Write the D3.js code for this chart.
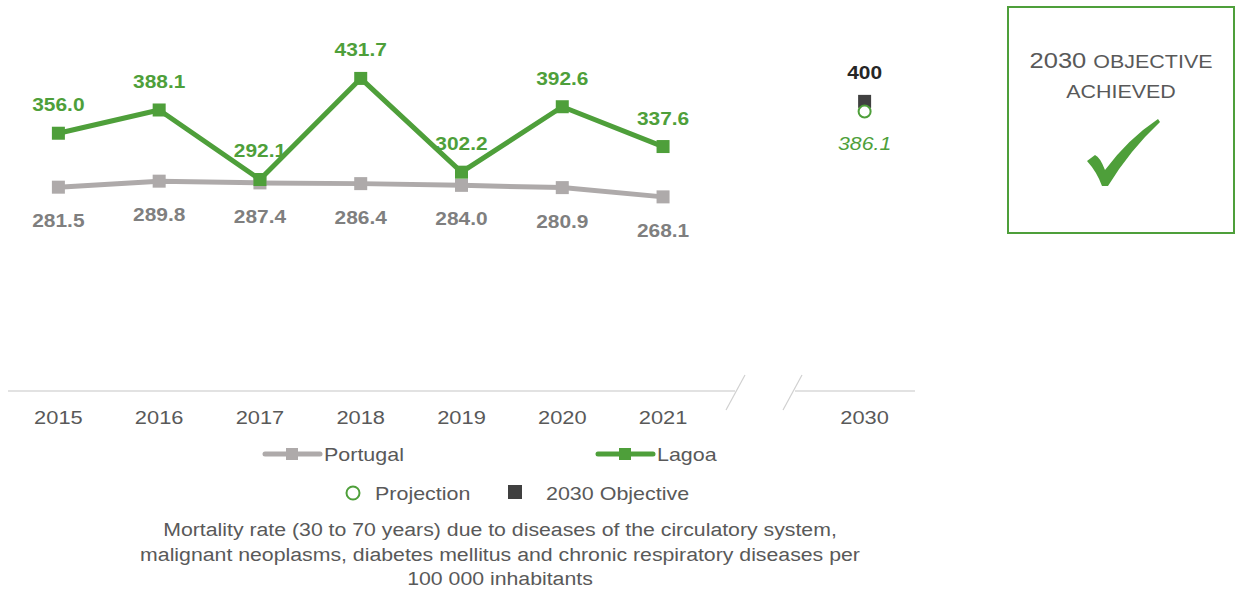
<!DOCTYPE html>
<html><head><meta charset="utf-8">
<script src="https://cdn.jsdelivr.net/npm/d3@7"></script>
<style>body{margin:0;background:#fff}svg{display:block;font-family:"Liberation Sans",Arial,sans-serif}</style>
</head><body>
<svg id="c" width="1240" height="589"></svg>
<script>
const categories = ["2015","2016","2017","2018","2019","2020","2021","","2030"];
const years = ["2015","2016","2017","2018","2019","2020","2021"];
const portugal = [281.5, 289.8, 287.4, 286.4, 284.0, 280.9, 268.1];
const lagoa = [356.0, 388.1, 292.1, 431.7, 302.2, 392.6, 337.6];
const objectiveYear = "2030";
const objectiveValue = 400;
const projectionValue = 386.1;
const captionLines = ["Mortality rate (30 to 70 years) due to diseases of the circulatory system,",
  "malignant neoplasms, diabetes mellitus and chronic respiratory diseases per",
  "100 000 inhabitants"];

const GREEN = "#4e9f3a", GRAY = "#aeaaaa", GRAYTXT = "#7f7f7f", DARK = "#404040", TXT = "#595959";
const SX = 1.13;
const tr = (x, y, sx) => `translate(${x},${y}) scale(${sx || SX},1)`;
const svg = d3.select("#c");
const x = d3.scaleBand().domain(categories).range([8, 915]);
const y = d3.scaleLinear().domain([0, 540]).range([391, 0]);
const cx = d => x(d) + x.bandwidth()/2;

// axis with break
const axisY = y(0);
svg.append("line").attr("x1", 8).attr("x2", 735).attr("y1", axisY).attr("y2", axisY).attr("stroke", "#d9d9d9").attr("stroke-width", 1.5);
svg.append("line").attr("x1", 795).attr("x2", 915).attr("y1", axisY).attr("y2", axisY).attr("stroke", "#d9d9d9").attr("stroke-width", 1.5);
[[745,375,726,410],[802,375,783,410]].forEach(s=>{
  svg.append("line").attr("x1", s[0]).attr("y1", s[1]).attr("x2", s[2]).attr("y2", s[3]).attr("stroke", "#d0d0d0").attr("stroke-width", 1.2);
});
svg.append("g").selectAll("text").data(categories.filter(c=>c!=="")).join("text")
  .attr("transform", d=>tr(cx(d), 424, 1.15)).attr("text-anchor","middle")
  .attr("font-size", 19).attr("fill", TXT).text(d=>d);

const line = d3.line().x((d,i)=>cx(years[i])).y(d=>y(d));
function series(vals, color, labelDy, labelColor){
  svg.append("path").datum(vals).attr("d", line).attr("fill","none").attr("stroke", color).attr("stroke-width", 5).attr("stroke-linejoin","round");
  svg.append("g").selectAll("rect").data(vals).join("rect")
    .attr("x",(d,i)=>cx(years[i])-6.5).attr("y",d=>y(d)-6.5).attr("width",13).attr("height",13).attr("fill",color);
  svg.append("g").selectAll("text").data(vals).join("text")
    .attr("transform",(d,i)=>tr(cx(years[i]), y(d)+labelDy, 1.1)).attr("text-anchor","middle")
    .attr("font-size",19).attr("font-weight","bold").attr("fill",labelColor).text(d=>d.toFixed(1));
}
series(portugal, GRAY, 40, GRAYTXT);
series(lagoa, GREEN, -22, GREEN);

// 2030 objective & projection
const ox = cx(objectiveYear);
svg.append("rect").attr("x", ox-6.5).attr("y", y(objectiveValue)-6.5).attr("width",13).attr("height",13).attr("fill",DARK);
svg.append("text").attr("transform", tr(ox, y(objectiveValue)-22, 1.1)).attr("text-anchor","middle").attr("font-size",19).attr("font-weight","bold").attr("fill","#262626").text(objectiveValue);
svg.append("circle").attr("cx", ox).attr("cy", y(projectionValue)).attr("r",6).attr("fill","#fff").attr("stroke",GREEN).attr("stroke-width",2);
svg.append("text").attr("transform", tr(ox, y(projectionValue)+39, 1.12)).attr("text-anchor","middle").attr("font-size",19).attr("font-style","italic").attr("fill",GREEN).text(projectionValue.toFixed(1));

// legend
const lg = svg.append("g").attr("font-size",19).attr("fill",TXT);
[[265,"Portugal",GRAY],[598,"Lagoa",GREEN]].forEach(([lx,name,col])=>{
  lg.append("line").attr("x1",lx).attr("x2",lx+55).attr("y1",454).attr("y2",454).attr("stroke",col).attr("stroke-width",5).attr("stroke-linecap","round");
  lg.append("rect").attr("x",lx+21).attr("y",448).attr("width",12).attr("height",12).attr("fill",col);
  lg.append("text").attr("transform",tr(lx+59,461)).text(name);
});
lg.append("circle").attr("cx",353).attr("cy",493).attr("r",6.5).attr("fill","#fff").attr("stroke",GREEN).attr("stroke-width",2);
lg.append("text").attr("transform",tr(375,500)).text("Projection");
lg.append("rect").attr("x",508).attr("y",485).attr("width",14).attr("height",14).attr("fill",DARK);
lg.append("text").attr("transform",tr(546,500)).text("2030 Objective");

// caption
svg.append("g").selectAll("text").data(captionLines).join("text")
  .attr("transform",(d,i)=>tr(500, 536+i*24.5, 1.12)).attr("text-anchor","middle").attr("font-size",19).attr("fill",TXT).text(d=>d);

// objective box
svg.append("rect").attr("x",1008).attr("y",7).attr("width",226).attr("height",226).attr("fill","#fff").attr("stroke",GREEN).attr("stroke-width",2);
const t1 = svg.append("text").attr("transform",tr(1121,68,1.16)).attr("text-anchor","middle").attr("fill",TXT);
t1.append("tspan").attr("font-size",22).text("2030 ");
t1.append("tspan").attr("font-size",18.5).text("OBJECTIVE");
svg.append("text").attr("transform",tr(1121,98,1.16)).attr("text-anchor","middle").attr("fill",TXT).attr("font-size",18.5).text("ACHIEVED");
svg.append("path").attr("d","M1087,161 L1095,155 Q1100,157 1105,170 Q1128,139 1158,119 L1160,122 Q1130,150 1108,186 L1102,186 Q1097,172 1087,161 Z").attr("fill",GREEN);
</script>
</body></html>
